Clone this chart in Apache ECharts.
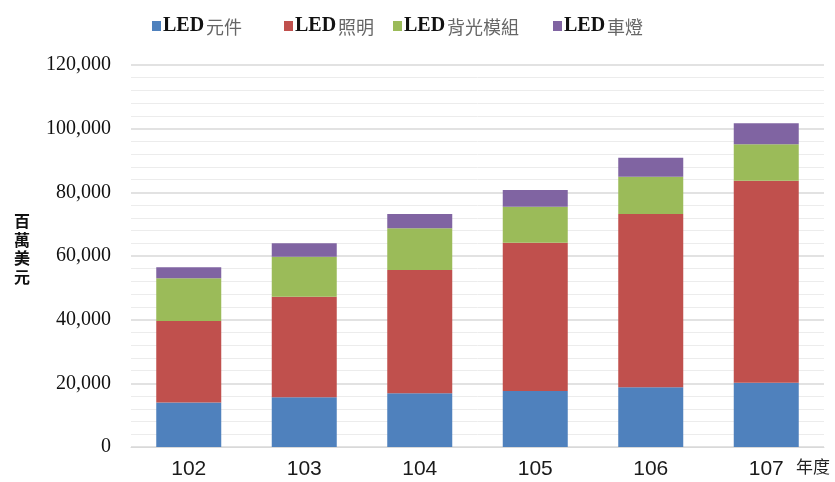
<!DOCTYPE html>
<html>
<head>
<meta charset="utf-8">
<script src="https://cdn.jsdelivr.net/npm/echarts@6/dist/echarts.min.js"></script>
<style>
  html, body { margin: 0; padding: 0; background: #ffffff; }
  #chart { width: 835px; height: 482px; }
</style>
</head>
<body>
<div id="chart"></div>
<script>
// 年度 (民國) and output value per product line, in 百萬美元
const years = ['102', '103', '104', '105', '106', '107'];
const seriesNames = ['LED元件', 'LED照明', 'LED背光模組', 'LED車燈'];
const ledComponents = [14000, 15600, 16900, 17600, 18750, 20200];
const ledLighting   = [25600, 31600, 38700, 46600, 54450, 63400];
const ledBacklight  = [13400, 12600, 13100, 11300, 11700, 11500];
const ledAutomotive = [3450, 4200, 4500, 5240, 6000, 6600];
const yTicks = [0, 20000, 40000, 60000, 80000, 100000, 120000];

const colors = ['#4f81bd', '#c0504d', '#9bbb59', '#8064a2'];
const values = [ledComponents, ledLighting, ledBacklight, ledAutomotive];
// left edge of each legend entry
const legendLefts = [152, 284, 393, 553];

const chart = echarts.init(document.getElementById('chart'), null, { renderer: 'canvas' });

const series = seriesNames.map((name, i) => ({
  name: name,
  type: 'bar',
  stack: 'total',
  data: values[i],
  barWidth: 65,
  itemStyle: { color: colors[i] },
  emphasis: { disabled: true }
}));

// one legend per entry so each can sit at its own spot
const legends = seriesNames.map((name, i) => ({
  data: [name],
  left: legendLefts[i],
  top: 16,
  padding: 0,
  icon: 'rect',
  itemWidth: 9,
  itemHeight: 10,
  selectedMode: false,
  formatter: n => '{a|LED}{b|' + n.slice(3) + '}',
  textStyle: {
    padding: [0, 0, 0, -3],
    rich: {
      a: { fontFamily: 'Liberation Serif', fontWeight: 'bold', fontSize: 20, color: '#111111' },
      b: { fontFamily: 'Noto Sans CJK TC', fontSize: 18, color: '#666666', padding: [2, 0, 0, 2] }
    }
  }
}));

chart.setOption({
  animation: false,
  backgroundColor: '#ffffff',
  legend: legends,
  grid: { left: 131, right: 11, top: 65, bottom: 35, containLabel: false },
  xAxis: {
    type: 'category',
    data: years,
    axisLine: { show: true, lineStyle: { color: '#d9d9d9', width: 1 } },
    axisTick: { show: false },
    axisLabel: {
      margin: 12,
      fontFamily: 'Liberation Sans',
      fontSize: 21,
      color: '#1a1a1a'
    }
  },
  yAxis: {
    type: 'value',
    min: yTicks[0],
    max: yTicks[yTicks.length - 1],
    interval: 20000,
    axisLine: { show: false },
    axisTick: { show: false },
    axisLabel: {
      margin: 20,
      fontFamily: 'Liberation Serif',
      fontSize: 20,
      color: '#111111',
      formatter: v => v.toLocaleString('en-US')
    },
    splitLine: { show: true, lineStyle: { color: '#d9d9d9', width: 1.5 } },
    minorTick: { show: false, splitNumber: 5 },
    minorSplitLine: { show: true, lineStyle: { color: '#ececec', width: 1 } }
  },
  graphic: [
    {
      type: 'text',
      left: 14,
      top: 212,
      style: {
        text: '百\n萬\n美\n元',
        fontFamily: 'Noto Sans CJK TC',
        fontWeight: 'bold',
        fontSize: 16,
        lineHeight: 18.5,
        fill: '#111111'
      }
    },
    {
      type: 'text',
      left: 796,
      top: 458,
      style: {
        text: '年度',
        fontFamily: 'Noto Sans CJK TC',
        fontSize: 17,
        fill: '#222222'
      }
    }
  ],
  series: series
});
</script>
</body>
</html>
